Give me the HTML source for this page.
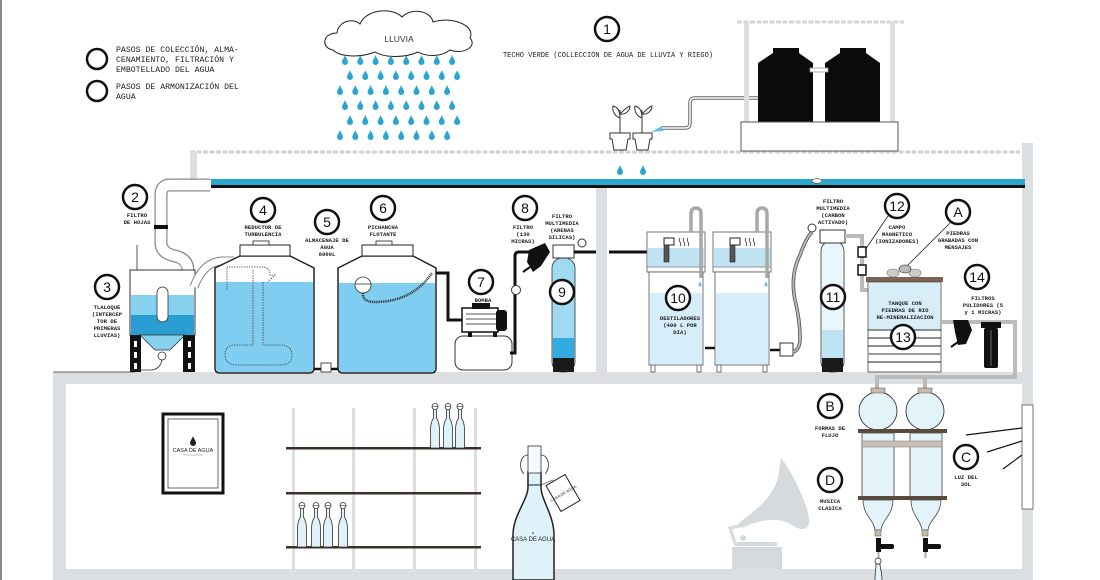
<!DOCTYPE html>
<html><head><meta charset="utf-8"><style>
html,body{margin:0;padding:0;background:#fff;}
svg{display:block;}
.lb{font-family:"Liberation Mono",monospace;font-size:5.6px;font-weight:bold;fill:#222;text-anchor:middle;}
.num{font-family:"Liberation Sans",sans-serif;font-size:14px;fill:#111;text-anchor:middle;}
.leg{font-family:"Liberation Mono",monospace;font-size:8.2px;fill:#222;}
</style></head><body>
<svg width="1100" height="580" viewBox="0 0 1100 580" xmlns="http://www.w3.org/2000/svg">
<defs>
<path id="d" d="M0 -5 C1 -2 3 0 3 2 A3 3 0 0 1 -3 2 C-3 0 -1 -2 0 -5Z" fill="#29a6d0"/>
<g id="btl"><path d="M-1.5 0 L1.5 0 L1.5 10 C4 14 4.5 18 4.5 22 L4.5 40 L-4.5 40 L-4.5 22 C-4.5 18 -4 14 -1.5 10 Z" fill="#dff1f9" stroke="#333" stroke-width="0.8"/><circle cx="0" cy="-1.5" r="3" fill="#fff" stroke="#333" stroke-width="0.8"/><line x1="-3" y1="-1.5" x2="3" y2="-1.5" stroke="#333" stroke-width="0.6"/></g>
</defs>
<rect width="1100" height="580" fill="#fff"/>
<rect x="0" y="0" width="2" height="580" fill="#8a8a8a"/>

<!-- legend -->
<circle cx="97" cy="59" r="10" fill="none" stroke="#111" stroke-width="2.5"/>
<circle cx="97" cy="91" r="10" fill="none" stroke="#111" stroke-width="2.5"/>
<text class="leg" x="116" y="52">PASOS DE COLECCIÓN, ALMA-</text>
<text class="leg" x="116" y="62">CENAMIENTO, FILTRACIÓN Y</text>
<text class="leg" x="116" y="72">EMBOTELLADO DEL AGUA</text>
<text class="leg" x="116" y="89">PASOS DE ARMONIZACIÓN DEL</text>
<text class="leg" x="116" y="99">AGUA</text>

<!-- cloud -->
<path d="M333 50 C321 48 322 33 337 33 C338 22 352 17 360 24 C366 9 392 7 402 17 C412 7 431 11 433 22 C451 16 476 25 470 38 C478 47 462 55 450 50 C440 58 425 56 418 52 C405 58 385 58 375 52 C360 58 340 57 333 50 Z" fill="#fff" stroke="#222" stroke-width="1"/>
<text x="399" y="42" font-family="Liberation Sans,sans-serif" font-size="8.5" fill="#333" text-anchor="middle">LLUVIA</text>
<g>
<use href="#d" x="345" y="60"/><use href="#d" x="360.3" y="60"/><use href="#d" x="375.6" y="60"/><use href="#d" x="390.9" y="60"/><use href="#d" x="406.2" y="60"/><use href="#d" x="421.5" y="60"/><use href="#d" x="436.8" y="60"/><use href="#d" x="452.1" y="60"/>
<use href="#d" x="350" y="75"/><use href="#d" x="365.3" y="75"/><use href="#d" x="380.6" y="75"/><use href="#d" x="395.9" y="75"/><use href="#d" x="411.2" y="75"/><use href="#d" x="426.5" y="75"/><use href="#d" x="441.8" y="75"/><use href="#d" x="457.1" y="75"/>
<use href="#d" x="340" y="90"/><use href="#d" x="355.3" y="90"/><use href="#d" x="370.6" y="90"/><use href="#d" x="385.9" y="90"/><use href="#d" x="401.2" y="90"/><use href="#d" x="416.5" y="90"/><use href="#d" x="431.8" y="90"/><use href="#d" x="447.1" y="90"/>
<use href="#d" x="345" y="105"/><use href="#d" x="360.3" y="105"/><use href="#d" x="375.6" y="105"/><use href="#d" x="390.9" y="105"/><use href="#d" x="406.2" y="105"/><use href="#d" x="421.5" y="105"/><use href="#d" x="436.8" y="105"/><use href="#d" x="452.1" y="105"/>
<use href="#d" x="350" y="120"/><use href="#d" x="365.3" y="120"/><use href="#d" x="380.6" y="120"/><use href="#d" x="395.9" y="120"/><use href="#d" x="411.2" y="120"/><use href="#d" x="426.5" y="120"/><use href="#d" x="441.8" y="120"/><use href="#d" x="457.1" y="120"/>
<use href="#d" x="340" y="135"/><use href="#d" x="355.3" y="135"/><use href="#d" x="370.6" y="135"/><use href="#d" x="385.9" y="135"/><use href="#d" x="401.2" y="135"/><use href="#d" x="416.5" y="135"/><use href="#d" x="431.8" y="135"/><use href="#d" x="447.1" y="135"/>
</g>

<!-- label 1 -->
<circle cx="607" cy="29" r="12" fill="#fff" stroke="#111" stroke-width="2.5"/>
<text class="num" x="607" y="34">1</text>
<text x="608" y="57" font-family="Liberation Mono,monospace" font-size="7" fill="#222" text-anchor="middle">TECHO VERDE (COLLECCION DE AGUA DE LLUVIA Y RIEGO)</text>

<!-- roof structure -->
<line x1="190" y1="152" x2="1020" y2="152" stroke="#cfd3d6" stroke-width="3" stroke-dasharray="5 1.5"/>
<rect x="190" y="152" width="7" height="30" fill="#dcdfe2"/>
<rect x="1022" y="143" width="11" height="437" fill="#dcdfe2"/>
<rect x="1022" y="405" width="11" height="104" fill="#fff" stroke="#555" stroke-width="0.8"/>

<!-- plants -->
<g stroke="#333" stroke-width="1" fill="#fff">
<path d="M610 133 L630 133 L630 139 L628 139 L626 150 L614 150 L612 139 L610 139 Z"/>
<path d="M633 133 L652 133 L652 139 L650 139 L648 150 L637 150 L635 139 L633 139 Z"/>
<path d="M620 133 L620 110 M620 118 C614 116 612 110 613 106 C618 107 620 112 620 118 M620 114 C624 110 628 106 630 106 C630 111 625 115 620 114" fill="none"/>
<path d="M642 133 L642 110 M642 118 C636 116 634 110 635 106 C640 107 642 112 642 118 M642 114 C646 110 650 106 652 106 C652 111 647 115 642 114" fill="none"/>
</g>
<path d="M651 132 L662 126 L663 131 Z" fill="#5fc0e8"/>
<path d="M662 128 L685 128 Q690 128 690 123 L690 103 Q690 98 695 98 L760 98" fill="none" stroke="#666" stroke-width="3.5"/>
<path d="M662 128 L685 128 Q690 128 690 123 L690 103 Q690 98 695 98 L760 98" fill="none" stroke="#fff" stroke-width="1.5"/>
<use href="#d" x="620" y="170"/><use href="#d" x="643" y="170"/>

<!-- black tanks -->
<line x1="737" y1="22" x2="904" y2="22" stroke="#d3d6d9" stroke-width="3" stroke-dasharray="5 1.5"/>
<rect x="744" y="22" width="5" height="100" fill="#dcdfe2"/>
<rect x="890" y="22" width="5" height="100" fill="#dcdfe2"/>
<path d="M758 122 L758 63 L773 53 L799 53 L813 63 L813 122 Z" fill="#0b0b0b"/>
<rect x="773" y="48" width="26" height="5" fill="#0b0b0b"/>
<path d="M825 122 L825 63 L840 53 L866 53 L880 63 L880 122 Z" fill="#0b0b0b"/>
<rect x="840" y="48" width="26" height="5" fill="#0b0b0b"/>
<rect x="810" y="68" width="18" height="4" fill="#fff" stroke="#999" stroke-width="0.8"/>
<rect x="741" y="122" width="157" height="29" fill="#fff" stroke="#555" stroke-width="1"/>

<!-- gutter -->
<rect x="205" y="179" width="820" height="6" fill="#29a6d0"/>
<rect x="205" y="185" width="820" height="3" fill="#111"/>
<ellipse cx="817" cy="181" rx="5" ry="2.3" fill="#fff" stroke="#444" stroke-width="0.6"/>

<!-- downpipe -->
<path d="M210 185 L170 185 Q161 185 161 195 L161 243 Q161 253 175 256 Q188 259 188 270" fill="none" stroke="#888" stroke-width="13"/>
<path d="M211 185 L170 185 Q161 185 161 195 L161 243 Q161 253 175 256 Q188 259 188 271" fill="none" stroke="#fff" stroke-width="10.5"/>
<rect x="154" y="225" width="14" height="4" fill="#111"/>

<!-- floors/walls -->
<rect x="596" y="188" width="11" height="184" fill="#dcdfe2"/>
<rect x="53" y="372" width="980" height="12" fill="#dcdfe2"/>
<rect x="53" y="372" width="13" height="208" fill="#dcdfe2"/>
<rect x="53" y="569" width="980" height="11" fill="#dcdfe2"/>
<line x1="53" y1="372" x2="135" y2="372" stroke="#666" stroke-width="1"/>

<!-- tlaloque -->
<line x1="137" y1="245" x2="137" y2="270" stroke="#555" stroke-width="1"/>
<rect x="130" y="270" width="65" height="65" fill="#fff" stroke="#333" stroke-width="1"/>
<rect x="131" y="295" width="63" height="20" fill="#86d0f0"/>
<rect x="131" y="315" width="63" height="20" fill="#2a9ed3"/>
<rect x="157" y="287" width="11" height="35" rx="5.5" fill="#fff" stroke="#333" stroke-width="0.8"/>
<path d="M140 335 L185 335 L170 350 L155 350 Z" fill="#86d0f0" stroke="#333" stroke-width="0.8"/>
<rect x="130" y="335" width="11" height="37" fill="#111"/>
<rect x="183" y="335" width="12" height="37" fill="#111"/>
<rect x="134" y="341" width="3" height="6" fill="#fff"/><rect x="134" y="352" width="3" height="6" fill="#fff"/><rect x="134" y="363" width="3" height="6" fill="#fff"/>
<rect x="188" y="341" width="3" height="6" fill="#fff"/><rect x="188" y="352" width="3" height="6" fill="#fff"/><rect x="188" y="363" width="3" height="6" fill="#fff"/>
<circle cx="162" cy="356" r="4" fill="#fff" stroke="#333" stroke-width="0.8"/>
<path d="M162 360 Q160 370 150 370 L130 370" fill="none" stroke="#333" stroke-width="0.8"/>

<!-- pipe tlaloque->tank4 -->
<path d="M194 287 Q203 262 222 261 L234 261" fill="none" stroke="#888" stroke-width="9"/>
<path d="M194 287 Q203 262 222 261 L235 261" fill="none" stroke="#fff" stroke-width="7"/>

<!-- tank 4 -->
<path d="M215 268 L240 256 L290 256 L314 268 L314 368 Q314 373 309 373 L220 373 Q215 373 215 368 Z" fill="#fff" stroke="#222" stroke-width="1.5"/>
<path d="M216 282 L313 282 L313 368 Q313 372 309 372 L220 372 Q216 372 216 368 Z" fill="#7fcdf0"/>
<rect x="240" y="245" width="50" height="11" fill="#fff" stroke="#222" stroke-width="1"/>
<rect x="253" y="241" width="16" height="4" fill="#fff" stroke="#222" stroke-width="0.8"/>
<g fill="none" stroke="#444" stroke-width="0.8" stroke-dasharray="1.5 1">
<path d="M227 290 L227 267 L262 267 Q270 267 270 275 L275 275 L268 282"/>
<path d="M253 270 L253 345 M263 282 L263 345"/>
<path d="M253 345 L235 345 Q225 345 225 355 Q225 365 238 365 L280 365 Q292 365 292 355 Q292 345 280 345 L263 345"/>
</g>

<!-- tank 5 connector -->
<line x1="314" y1="369" x2="338" y2="369" stroke="#111" stroke-width="2.5"/>
<rect x="321" y="363" width="10" height="9" fill="#fff" stroke="#222" stroke-width="0.8"/>

<!-- tank 6 -->
<path d="M338 268 L362 256 L413 256 L436 268 L436 368 Q436 373 431 373 L343 373 Q338 373 338 368 Z" fill="#fff" stroke="#222" stroke-width="1.5"/>
<path d="M339 283 L435 283 L435 368 Q435 372 431 372 L343 372 Q339 372 339 368 Z" fill="#7fcdf0"/>
<rect x="362" y="245" width="51" height="11" fill="#fff" stroke="#222" stroke-width="1"/>
<rect x="376" y="241" width="16" height="4" fill="#fff" stroke="#222" stroke-width="0.8"/>
<circle cx="363" cy="285" r="8" fill="#fff" stroke="#333" stroke-width="0.8"/>
<line x1="355" y1="284" x2="371" y2="284" stroke="#333" stroke-width="0.8"/>
<path d="M363 293 Q362 302 375 302 Q412 302 432 273" fill="none" stroke="#333" stroke-width="2.5" stroke-dasharray="1 0.8"/>

<!-- pump -->
<path d="M436 273 L448 273 L448 320 L462 320" fill="none" stroke="#111" stroke-width="3"/>
<rect x="455" y="336" width="57" height="34" rx="8" fill="#fff" stroke="#333" stroke-width="1"/>
<rect x="468" y="330" width="4" height="7" fill="#111"/><rect x="493" y="330" width="4" height="7" fill="#111"/>
<rect x="462" y="308" width="36" height="24" fill="#fff" stroke="#111" stroke-width="1.5"/>
<line x1="466" y1="314" x2="496" y2="314" stroke="#555" stroke-width="1"/><line x1="466" y1="319" x2="496" y2="319" stroke="#555" stroke-width="1"/><line x1="466" y1="324" x2="496" y2="324" stroke="#555" stroke-width="1"/>
<rect x="472" y="303" width="18" height="6" fill="#111"/>
<rect x="496" y="310" width="11" height="21" rx="3" fill="#111"/>
<path d="M510 353 L515 353 L515 256 Q515 252 519 252 L530 252" fill="none" stroke="#111" stroke-width="3"/>
<circle cx="516" cy="290" r="4.5" fill="#fff" stroke="#333" stroke-width="1"/>
<path d="M529 250 L545 243 L550 252 L541 266 L533 272 L527 262 Z" fill="#111"/>
<line x1="523" y1="272" x2="530" y2="267" stroke="#111" stroke-width="2"/>

<!-- filter 9 -->
<rect x="552" y="258" width="23" height="114" rx="10" fill="#9fd9f2" stroke="#333" stroke-width="0.8"/>
<rect x="553" y="338" width="21" height="20" fill="#33abe0"/>
<path d="M553 358 L574 358 L574 372 L553 372 Z" fill="#1a1a1a"/>
<rect x="553" y="245" width="21" height="13" fill="#fff" stroke="#333" stroke-width="1"/>
<line x1="574" y1="252" x2="596" y2="252" stroke="#111" stroke-width="3"/>
<circle cx="582" cy="243" r="4" fill="#fff" stroke="#333" stroke-width="1"/>
<line x1="609" y1="252" x2="647" y2="252" stroke="#111" stroke-width="3"/>

<!-- distillers -->
<g id="dist">
<rect x="647" y="232" width="58" height="40" fill="#fff" stroke="#555" stroke-width="0.8"/>
<rect x="648" y="248" width="56" height="19" fill="#bfe3f3"/>
<line x1="647" y1="267" x2="705" y2="267" stroke="#777" stroke-width="0.8"/>
<rect x="649" y="272" width="54" height="93" fill="#fff" stroke="#555" stroke-width="0.8"/>
<rect x="650" y="293" width="52" height="71" fill="#d6eef9"/>
<rect x="651" y="365" width="4" height="7" fill="#fff" stroke="#555" stroke-width="0.8"/>
<rect x="697" y="365" width="4" height="7" fill="#fff" stroke="#555" stroke-width="0.8"/>
<rect x="664" y="238" width="10" height="7" fill="#fff" stroke="#222" stroke-width="1"/>
<rect x="664" y="245" width="5" height="17" fill="#555" stroke="#222" stroke-width="0.6"/>
<path d="M680 246 q1.5-2 0-4 q-1.5-2 0-4 M684 246 q1.5-2 0-4 q-1.5-2 0-4 M688 246 q1.5-2 0-4 q-1.5-2 0-4" fill="none" stroke="#333" stroke-width="0.8"/>
<path d="M691 232 L691 214 Q691 208 696 208 Q701 208 701 214 L701 278" fill="none" stroke="#a8a8a8" stroke-width="3.5"/>
<path d="M700 281 C700.5 283 701.5 284 701.5 285 A1.5 1.5 0 0 1 698.5 285 C698.5 284 699.5 283 700 281Z" fill="#5fc0e8"/>
</g>
<use href="#dist" x="66" y="0"/>
<line x1="705" y1="348" x2="715" y2="348" stroke="#111" stroke-width="2.5"/>
<line x1="770" y1="350" x2="781" y2="350" stroke="#111" stroke-width="2.5"/>
<rect x="780" y="343" width="13" height="13" fill="#fff" stroke="#333" stroke-width="1"/>
<path d="M793 352 Q800 350 800 338 Q800 320 795 300 Q790 275 800 255 Q806 238 812 232" fill="none" stroke="#444" stroke-width="3.5"/>
<path d="M793 352 Q800 350 800 338 Q800 320 795 300 Q790 275 800 255 Q806 238 812 232" fill="none" stroke="#bbb" stroke-width="2"/>

<!-- filter 11 -->
<circle cx="812" cy="228" r="4" fill="#fff" stroke="#333" stroke-width="1"/>
<rect x="821" y="241" width="23" height="131" rx="10" fill="#e9f6fb" stroke="#333" stroke-width="0.8"/>
<rect x="822" y="330" width="21" height="28" fill="#bfe3f3"/>
<rect x="822" y="358" width="21" height="14" fill="#1a1a1a"/>
<rect x="820" y="230" width="25" height="13" fill="#fff" stroke="#333" stroke-width="1"/>
<path d="M845 236 L862 236 L862 290 L868 290" fill="none" stroke="#bbb" stroke-width="4"/>
<rect x="858" y="247" width="8" height="10" fill="#fff" stroke="#111" stroke-width="1.5"/>
<rect x="858" y="265" width="8" height="10" fill="#fff" stroke="#111" stroke-width="1.5"/>
<line x1="888" y1="216" x2="865" y2="250" stroke="#222" stroke-width="0.8"/>
<line x1="951" y1="222" x2="907" y2="266" stroke="#222" stroke-width="0.8"/>

<!-- tank 13 -->
<ellipse cx="893" cy="273" rx="6" ry="4" fill="#ccc" stroke="#777" stroke-width="0.6"/>
<ellipse cx="915" cy="273" rx="6" ry="4" fill="#ccc" stroke="#777" stroke-width="0.6"/>
<ellipse cx="905" cy="269" rx="6" ry="4" fill="#bbb" stroke="#555" stroke-width="0.8"/>
<rect x="866" y="277" width="77" height="5" fill="#7a6555"/>
<rect x="868" y="282" width="73" height="90" fill="#fff" stroke="#444" stroke-width="0.8"/>
<rect x="869" y="283" width="71" height="46" fill="#d7eef8"/>
<g stroke="#222" stroke-width="1"><line x1="868" y1="330" x2="941" y2="330"/><line x1="868" y1="338" x2="941" y2="338"/><line x1="868" y1="346" x2="941" y2="346"/><line x1="868" y1="362" x2="941" y2="362"/></g>
<line x1="868" y1="354" x2="941" y2="354" stroke="#999" stroke-width="2"/>
<path d="M941 322 L1015 322 L1015 377 L877 377 L877 390 M925 377 L925 390" fill="none" stroke="#bbb" stroke-width="4"/>
<path d="M953 320 L968 320 L972 330 L966 344 L958 345 L955 332 Z" fill="#111"/>
<line x1="951" y1="347" x2="958" y2="342" stroke="#111" stroke-width="2"/>
<rect x="981" y="322" width="20" height="6" fill="#111"/>
<rect x="984" y="328" width="14" height="40" rx="2" fill="#111"/>
<line x1="991" y1="330" x2="991" y2="366" stroke="#666" stroke-width="1"/>

<!-- lower room: frame -->
<rect x="163" y="414" width="60" height="79" fill="#fff" stroke="#111" stroke-width="3"/>
<rect x="168" y="419" width="50" height="69" fill="#fff" stroke="#444" stroke-width="0.8"/>
<path d="M193 436 C194 439 196 441 196 443 A3 3 0 0 1 190 443 C190 441 192 439 193 436Z" fill="#222"/>
<text x="193" y="452" font-family="Liberation Sans,sans-serif" font-size="5.5" fill="#222" text-anchor="middle">CASA DE AGUA</text>
<line x1="183" y1="455" x2="203" y2="455" stroke="#888" stroke-width="0.5"/>

<!-- shelves -->
<rect x="292" y="408" width="3" height="161" fill="#dcdfe2"/>
<rect x="352" y="408" width="3" height="161" fill="#dcdfe2"/>
<rect x="413" y="408" width="3" height="161" fill="#dcdfe2"/>
<rect x="474" y="408" width="3" height="161" fill="#dcdfe2"/>
<rect x="286" y="447" width="195" height="2.5" fill="#3d3029"/>
<rect x="286" y="492" width="195" height="2.5" fill="#3d3029"/>
<rect x="286" y="546" width="195" height="2.5" fill="#3d3029"/>
<use href="#btl" x="435" y="408"/><use href="#btl" x="448" y="408"/><use href="#btl" x="460" y="408"/>
<use href="#btl" x="302" y="507"/><use href="#btl" x="316" y="507"/><use href="#btl" x="328" y="507"/><use href="#btl" x="343" y="507"/>

<!-- big bottle -->
<path d="M513 580 L513 535 C513 515 528 500 528 487 L528 472 L541 472 L541 487 C541 500 554 515 554 535 L554 580 Z" fill="#dff1f9" stroke="#222" stroke-width="1.5"/>
<rect x="528" y="446" width="13" height="27" fill="#f4f9fb" stroke="#333" stroke-width="0.8"/>
<path d="M528 455 C520 455 518 468 524 474 M541 455 C549 455 551 468 545 474" fill="none" stroke="#333" stroke-width="0.8"/>
<line x1="527" y1="485" x2="542" y2="485" stroke="#222" stroke-width="1"/>
<text x="533" y="541" font-family="Liberation Sans,sans-serif" font-size="6" fill="#222" text-anchor="middle">CASA DE AGUA</text>
<circle cx="533" cy="533" r="0.8" fill="#222"/>
<g transform="translate(563,493) rotate(-30)"><rect x="-11" y="-15" width="22" height="30" fill="#fff" stroke="#222" stroke-width="1"/><text x="0" y="2" font-family="Liberation Sans,sans-serif" font-size="4" fill="#333" text-anchor="middle">CASA DE AGUA</text></g>
<line x1="541" y1="485" x2="553" y2="480" stroke="#222" stroke-width="0.6"/>

<!-- gramophone -->
<path d="M781 458 C792 472 806 500 809 518 C811 530 802 532 792 525 C778 516 758 520 742 528 L738 524 C752 512 772 500 778 478 Z" fill="#d5dadd"/>
<path d="M740 526 L730 528 L736 546" fill="none" stroke="#d5dadd" stroke-width="3"/>
<rect x="732" y="547" width="50" height="22" fill="#d5dadd"/>
<rect x="737" y="542" width="40" height="4" fill="#d5dadd"/>
<circle cx="743" cy="538" r="3" fill="#d5dadd"/>

<!-- harmonization vessels -->
<circle cx="878" cy="411" r="19" fill="#e3f3fa" stroke="#333" stroke-width="0.9"/>
<circle cx="925" cy="411" r="19" fill="#e3f3fa" stroke="#333" stroke-width="0.9"/>
<rect x="871" y="388" width="14" height="5" fill="#c9b9a8" stroke="#555" stroke-width="0.5"/>
<rect x="918" y="388" width="14" height="5" fill="#c9b9a8" stroke="#555" stroke-width="0.5"/>
<rect x="862" y="433" width="32" height="64" fill="#e3f3fa" stroke="#444" stroke-width="0.8"/>
<rect x="910" y="433" width="32" height="64" fill="#e3f3fa" stroke="#444" stroke-width="0.8"/>
<rect x="858" y="429" width="89" height="4" fill="#5a4a3e"/>
<rect x="862" y="441" width="80" height="6" fill="#cbbfb5" stroke="#777" stroke-width="0.5"/>
<rect x="858" y="496" width="89" height="4" fill="#5a4a3e"/>
<path d="M863 500 L893 500 C893 515 882 520 881 530 L875 530 C874 520 863 515 863 500 Z" fill="#e3f3fa" stroke="#444" stroke-width="0.8"/>
<path d="M911 500 L941 500 C941 515 929 520 928 530 L922 530 C921 520 911 515 911 500 Z" fill="#e3f3fa" stroke="#444" stroke-width="0.8"/>
<rect x="875" y="530" width="6" height="6" fill="#c9b9a8" stroke="#555" stroke-width="0.5"/>
<rect x="922" y="530" width="6" height="6" fill="#c9b9a8" stroke="#555" stroke-width="0.5"/>
<rect x="876" y="538" width="5" height="14" fill="#111"/><rect x="879" y="544" width="15" height="5" rx="2" fill="#111"/>
<rect x="923" y="538" width="5" height="14" fill="#111"/><rect x="926" y="544" width="15" height="5" rx="2" fill="#111"/>
<line x1="878.5" y1="552" x2="878.5" y2="558" stroke="#aaa" stroke-width="2"/>
<line x1="925.5" y1="552" x2="925.5" y2="558" stroke="#aaa" stroke-width="2"/>
<path d="M875 580 C875 572 876 568 876 564 L880 564 C880 568 882 572 882 580" fill="#e3f3fa" stroke="#333" stroke-width="0.8"/>
<circle cx="878" cy="561" r="3" fill="#fff" stroke="#333" stroke-width="0.8"/>
<g stroke="#111" stroke-width="1.2"><line x1="1022" y1="428" x2="966" y2="435"/><line x1="1022" y1="441" x2="987" y2="452"/><line x1="1022" y1="455" x2="1003" y2="469"/></g>

<!-- circles -->
<g fill="#fff" stroke="#111" stroke-width="2.5">
<circle cx="135" cy="197" r="12"/><circle cx="107" cy="287" r="12"/><circle cx="263" cy="210" r="12"/>
<circle cx="327" cy="222" r="12"/><circle cx="383" cy="208" r="12"/><circle cx="481" cy="282" r="12"/>
<circle cx="525" cy="208" r="12"/><circle cx="562" cy="292" r="12"/><circle cx="678" cy="298" r="12"/>
<circle cx="833" cy="297" r="12"/><circle cx="897" cy="206" r="12"/><circle cx="958" cy="212" r="12"/>
<circle cx="903" cy="337" r="12"/><circle cx="977" cy="277" r="12"/>
<circle cx="830" cy="406" r="12"/><circle cx="830" cy="480" r="12"/><circle cx="966" cy="457" r="12"/>
</g>
<g class="num">
<text class="num" x="135" y="202">2</text><text class="num" x="107" y="292">3</text><text class="num" x="263" y="215">4</text>
<text class="num" x="327" y="227">5</text><text class="num" x="383" y="213">6</text><text class="num" x="481" y="287">7</text>
<text class="num" x="525" y="213">8</text><text class="num" x="562" y="297">9</text><text class="num" x="678" y="303">10</text>
<text class="num" x="833" y="302">11</text><text class="num" x="897" y="211">12</text><text class="num" x="958" y="217">A</text>
<text class="num" x="903" y="342">13</text><text class="num" x="977" y="282">14</text>
<text class="num" x="830" y="411">B</text><text class="num" x="830" y="485">D</text><text class="num" x="966" y="462">C</text>
</g>

<!-- small labels -->
<text class="lb" x="137" y="217">FILTRO</text><text class="lb" x="137" y="224">DE HOJAS</text>
<text class="lb" x="107" y="309">TLALOQUE</text><text class="lb" x="107" y="316">(INTERCEP</text><text class="lb" x="107" y="323">TOR DE</text><text class="lb" x="107" y="330">PRIMERAS</text><text class="lb" x="107" y="337">LLUVIAS)</text>
<text class="lb" x="263" y="229">REDUCTOR DE</text><text class="lb" x="263" y="236">TURBULENCIA</text>
<text class="lb" x="327" y="242">ALMACENAJE DE</text><text class="lb" x="327" y="249">AGUA</text><text class="lb" x="327" y="256">6000L</text>
<text class="lb" x="383" y="229">PICHANCHA</text><text class="lb" x="383" y="236">FLOTANTE</text>
<text class="lb" x="483" y="302">BOMBA</text>
<text class="lb" x="523" y="229">FILTRO</text><text class="lb" x="523" y="236">(130</text><text class="lb" x="523" y="243">MICRAS)</text>
<text class="lb" x="562" y="218">FILTRO</text><text class="lb" x="562" y="225">MULTIMEDIA</text><text class="lb" x="562" y="232">(ARENAS</text><text class="lb" x="562" y="239">SILICAS)</text>
<text class="lb" x="680" y="320">DESTILADORES</text><text class="lb" x="680" y="327">(400 L POR</text><text class="lb" x="680" y="334">DIA)</text>
<text class="lb" x="833" y="203">FILTRO</text><text class="lb" x="833" y="210">MULTIMEDIA</text><text class="lb" x="833" y="217">(CARBON</text><text class="lb" x="833" y="224">ACTIVADO)</text>
<text class="lb" x="897" y="229">CAMPO</text><text class="lb" x="897" y="236">MAGNETICO</text><text class="lb" x="897" y="243">(IONIZADORES)</text>
<text class="lb" x="958" y="235">PIEDRAS</text><text class="lb" x="958" y="242">GRABADAS CON</text><text class="lb" x="958" y="249">MENSAJES</text>
<text class="lb" x="905" y="305">TANQUE CON</text><text class="lb" x="905" y="312">PIEDRAS DE RIO</text><text class="lb" x="905" y="319">RE-MINERALIZACION</text>
<text class="lb" x="983" y="300">FILTROS</text><text class="lb" x="983" y="307">PULIDORES (5</text><text class="lb" x="983" y="314">y 1 MICRAS)</text>
<text class="lb" x="830" y="430">FORMAS DE</text><text class="lb" x="830" y="437">FLUJO</text>
<text class="lb" x="830" y="503">MUSICA</text><text class="lb" x="830" y="510">CLASICA</text>
<text class="lb" x="966" y="479">LUZ DEL</text><text class="lb" x="966" y="486">SOL</text>
</svg>
</body></html>
